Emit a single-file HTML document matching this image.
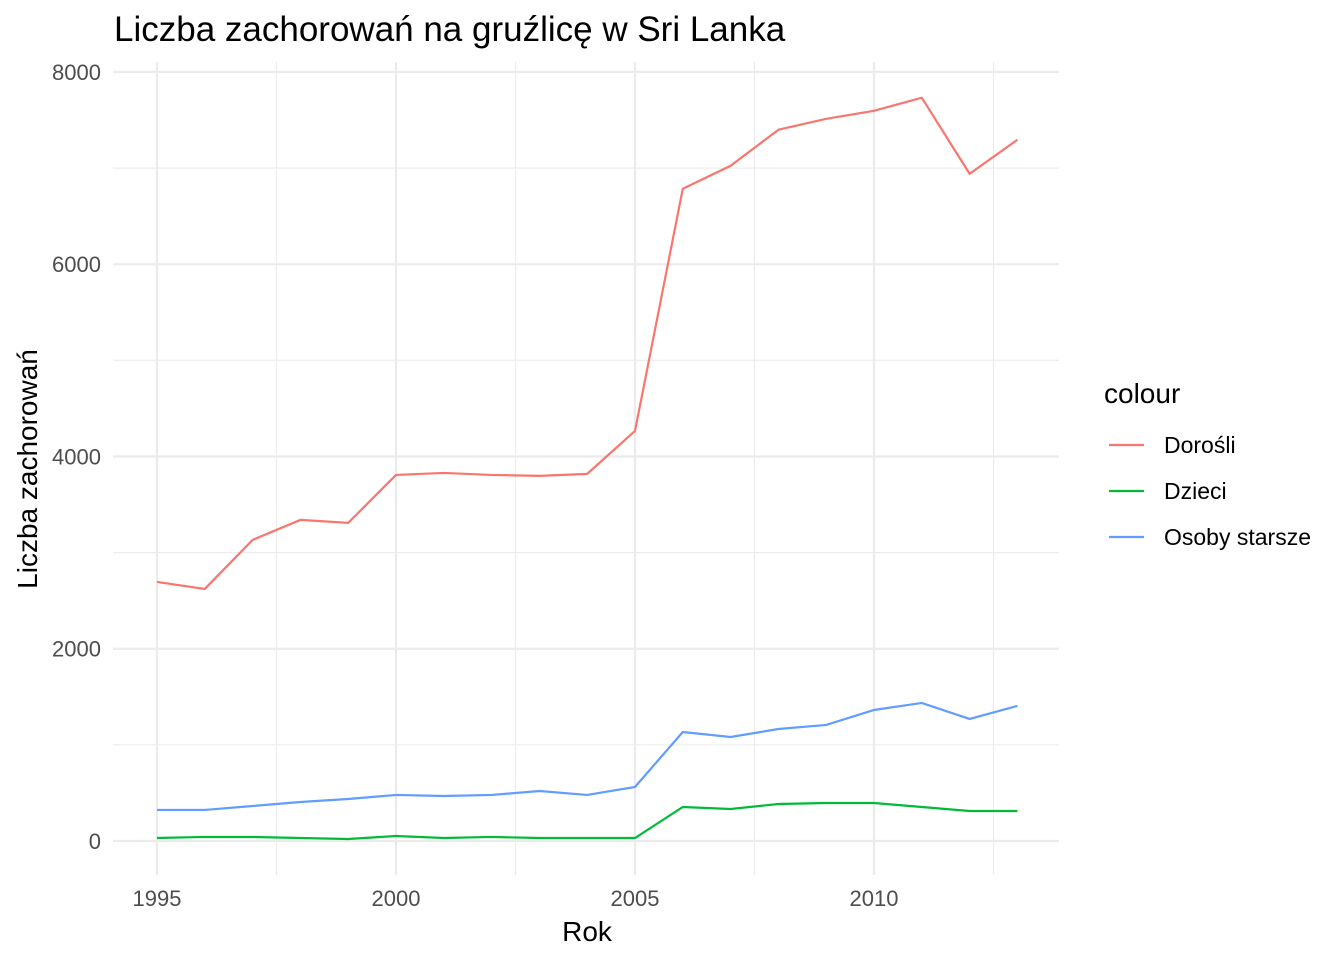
<!DOCTYPE html>
<html><head><meta charset="utf-8">
<style>
body{margin:0;background:#fff;font-family:"Liberation Sans",Arial,sans-serif;}
svg text{font-family:"Liberation Sans",Arial,sans-serif;}
</style></head>
<body>
<svg id="chart" width="1344" height="960" xmlns="http://www.w3.org/2000/svg">
<rect width="1344" height="960" fill="#fff"/>
<text x="114" y="41" font-size="35" fill="#000">Liczba zachorowań na gruźlicę w Sri Lanka</text>
<g id="grid"></g>
<g id="lines"></g>
<g id="ticks"></g>
<text x="587" y="941" font-size="28" text-anchor="middle">Rok</text>
<text transform="translate(37,469) rotate(-90)" font-size="28" text-anchor="middle">Liczba zachorowań</text>
<g>
<text x="1104" y="403" font-size="28">colour</text>
<g id="legend"></g>
</g>
</svg>
<script>
const years=[1995,1996,1997,1998,1999,2000,2001,2002,2003,2004,2005,2006,2007,2008,2009,2010,2011,2012,2013];
const dorosli=[2695,2622,3132,3340,3309,3808,3829,3808,3798,3819,4266,6785,7024,7399,7513,7596,7732,6941,7295];
const dzieci=[31,42,42,31,21,52,31,42,31,31,31,354,333,385,395,395,354,312,312];
const starsze=[323,323,364,406,437,479,468,479,520,479,562,1134,1082,1165,1207,1363,1436,1270,1405];
const xTicks=[1995,2000,2005,2010];
const xMinor=[1997.5,2002.5,2007.5,2012.5];
const yTicks=[0,2000,4000,6000,8000];
const yMinor=[1000,3000,5000,7000];
const seriesNames=["Dorośli","Dzieci","Osoby starsze"];
const seriesColors=["#F8766D","#00BA38","#619CFF"];
const X=v=>157+(v-1995)*47.8;
const Y=v=>841-v*0.09613;
const NS="http://www.w3.org/2000/svg";
function mk(tag,attrs,parent){const e=document.createElementNS(NS,tag);for(const k in attrs)e.setAttribute(k,attrs[k]);parent.appendChild(e);return e;}
const grid=document.getElementById('grid'),ticks=document.getElementById('ticks'),lines=document.getElementById('lines'),leg=document.getElementById('legend');
const x0=113,x1=1059,y0=62,y1=875;
yMinor.forEach(v=>{const l=mk('line',{x1:x0,x2:x1,y1:Y(v),y2:Y(v),stroke:'#ebebeb','stroke-width':1.1},grid);

});
xMinor.forEach(v=>{const l=mk('line',{x1:X(v),x2:X(v),y1:y0,y2:y1,stroke:'#ebebeb','stroke-width':1.1},grid);

});
yTicks.forEach(v=>{const l=mk('line',{x1:x0,x2:x1,y1:Y(v),y2:Y(v),stroke:'#ebebeb','stroke-width':2.2},grid);


const t=mk('text',{x:101,y:Y(v)+8,'font-size':22,'text-anchor':'end',fill:'#4d4d4d'},ticks);t.textContent=v;

});
xTicks.forEach(v=>{const l=mk('line',{x1:X(v),x2:X(v),y1:y0,y2:y1,stroke:'#ebebeb','stroke-width':2.2},grid);


const t=mk('text',{x:X(v),y:906,'font-size':22,'text-anchor':'middle',fill:'#4d4d4d'},ticks);t.textContent=v;

});
[dorosli,dzieci,starsze].forEach((s,i)=>{
const p=mk('polyline',{points:s.map((v,j)=>X(years[j])+','+Y(v)).join(' '),fill:'none',stroke:seriesColors[i],'stroke-width':2.2},lines);


const ly=445+i*46;
const ll=mk('line',{x1:1109,x2:1144,y1:ly,y2:ly,stroke:seriesColors[i],'stroke-width':2.2},leg);


const t=mk('text',{x:1164,y:ly+8,'font-size':23},leg);t.textContent=seriesNames[i];


});
</script>
</body></html>
